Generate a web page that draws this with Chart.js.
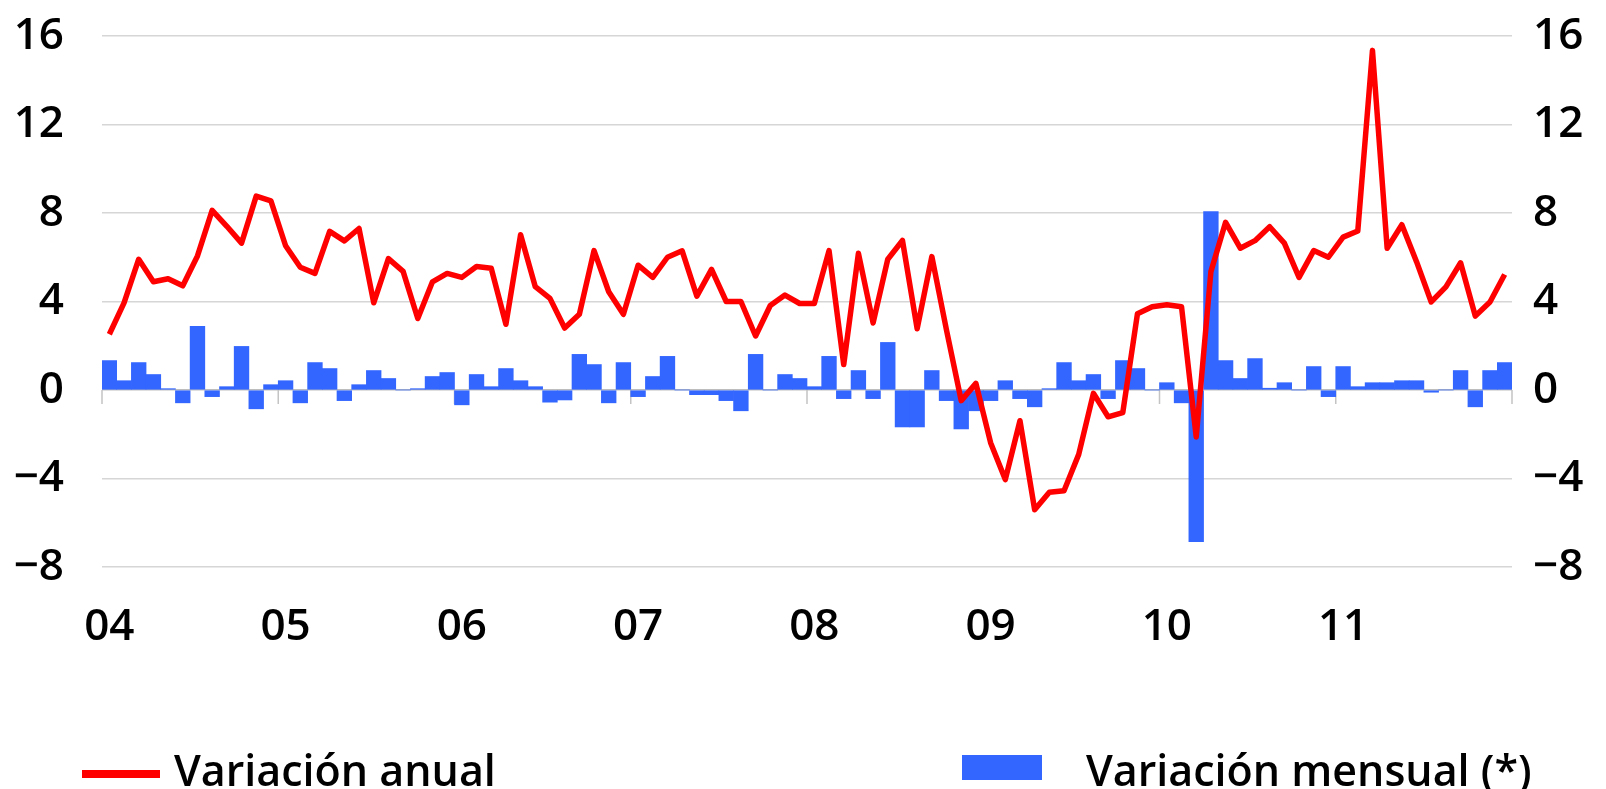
<!DOCTYPE html>
<html lang="es">
<head>
<meta charset="utf-8">
<title>Variación anual y mensual</title>
<script src="https://cdn.jsdelivr.net/npm/chart.js@4.4.1/dist/chart.umd.min.js"></script>
<style>
  html, body { margin: 0; padding: 0; background: #fff; }
  #wrap { position: relative; width: 1606px; height: 789px; overflow: hidden; }
  #chart { position: absolute; left: 0; top: 0; }
  .legend-text { position: absolute; font-family: 'Open Sans', sans-serif; font-size: 43px; font-weight: 600; line-height: 43px; color: #000; white-space: nowrap; }
  .swatch { position: absolute; }
</style>
</head>
<body>
<div id="wrap">
  <canvas id="chart" width="1606" height="789"></canvas>
  <div class="swatch" style="left:82px; top:770px; width:78px; height:8px; background:#ff0000;"></div>
  <div class="legend-text" style="left:174px; top:748px;">Variación anual</div>
  <div class="swatch" style="left:962px; top:755px; width:80px; height:25px; background:#3366ff;"></div>
  <div class="legend-text" style="left:1086px; top:748px;">Variación mensual (*)</div>
</div>
<script>
// years shown on the x axis, one label per January
const yearLabels = ['04', '05', '06', '07', '08', '09', '10', '11'];
const monthNames = ['ene', 'feb', 'mar', 'abr', 'may', 'jun', 'jul', 'ago', 'sep', 'oct', 'nov', 'dic'];

// one category per month, 2004-2011
const categories = [];
yearLabels.forEach(y => monthNames.forEach(m => categories.push(m + '-' + y)));

// annual change (%), red line
const variacionAnual = [
    2.52, 3.94, 5.91, 4.89, 5.03, 4.71, 6.06, 8.12, 7.40, 6.64, 8.76, 8.55,
    6.52, 5.55, 5.27, 7.17, 6.74, 7.30, 3.94, 5.94, 5.36, 3.23, 4.89, 5.27,
    5.09, 5.58, 5.50, 2.97, 7.02, 4.67, 4.14, 2.80, 3.42, 6.30, 4.44, 3.42,
    5.64, 5.09, 6.00, 6.29, 4.24, 5.45, 4.00, 4.00, 2.44, 3.82, 4.29, 3.91,
    3.91, 6.30, 1.15, 6.18, 3.03, 5.91, 6.76, 2.77, 6.03, 2.70, -0.48, 0.30,
    -2.38, -4.05, -1.39, -5.41, -4.62, -4.55, -2.91, -0.15, -1.21, -1.02, 3.45, 3.76,
    3.85, 3.76, -2.12, 5.35, 7.58, 6.41, 6.75, 7.38, 6.64, 5.09, 6.30, 6.00,
    6.91, 7.19, 15.35, 6.41, 7.47, 5.80, 3.98, 4.66, 5.75, 3.34, 3.98, 5.22
];

// monthly change (%), blue bars
const variacionMensual = [
    1.33, 0.42, 1.24, 0.70, 0.06, -0.58, 2.88, -0.30, 0.15, 1.97, -0.85, 0.24,
    0.42, -0.58, 1.24, 0.97, -0.48, 0.24, 0.88, 0.52, 0.00, 0.06, 0.61, 0.79,
    -0.67, 0.70, 0.15, 0.97, 0.42, 0.15, -0.55, -0.45, 1.61, 1.15, -0.58, 1.24,
    -0.30, 0.61, 1.52, 0.00, -0.21, -0.21, -0.48, -0.94, 1.61, 0.00, 0.70, 0.52,
    0.15, 1.52, -0.39, 0.88, -0.39, 2.15, -1.67, -1.67, 0.88, -0.48, -1.76, -0.94,
    -0.48, 0.42, -0.39, -0.76, 0.06, 1.24, 0.42, 0.70, -0.39, 1.33, 0.97, 0.00,
    0.33, -0.58, -6.85, 8.06, 1.33, 0.52, 1.42, 0.08, 0.33, 0.00, 1.06, -0.30,
    1.06, 0.15, 0.33, 0.33, 0.42, 0.42, -0.10, 0.00, 0.88, -0.76, 0.88, 1.24
];

const Y_MIN = -8;
const Y_MAX = 16;
const Y_STEP = 4;

const tickFont = { family: "'Open Sans', sans-serif", size: 44, weight: 600 };
const formatTick = v => (v < 0 ? '\u2212' + Math.abs(v) : String(v));

// the label gap on the y axes should not push the plot down
const fixYAxis = width => scale => {
    scale.width = width;
    scale.paddingTop = 0;
    scale.paddingBottom = 0;
};

// small tick marks hanging under the zero line at every year boundary
const yearTicks = {
    id: 'yearTicks',
    beforeDatasetsDraw(chart) {
        const { ctx, scales: { x, y } } = chart;
        const half = (x.getPixelForValue(1) - x.getPixelForValue(0)) / 2;
        const y0 = y.getPixelForValue(0);
        ctx.save();
        ctx.strokeStyle = '#c4c4c4';
        ctx.lineWidth = 1.5;
        ctx.beginPath();
        for (let i = 0; i <= categories.length; i += 12) {
            const px = x.getPixelForValue(i) - half;
            ctx.moveTo(px, y0);
            ctx.lineTo(px, y0 + 14);
        }
        ctx.stroke();
        ctx.restore();
    }
};

const ctx = document.getElementById('chart').getContext('2d');
new Chart(ctx, {
    data: {
        labels: categories,
        datasets: [
            {
                type: 'line',
                label: 'Variación anual',
                data: variacionAnual,
                borderColor: '#ff0000',
                backgroundColor: '#ff0000',
                borderWidth: 5.5,
                borderJoinStyle: 'round',
                pointRadius: 0,
                tension: 0,
                yAxisID: 'y',
                order: 0
            },
            {
                type: 'bar',
                label: 'Variación mensual (*)',
                data: variacionMensual,
                backgroundColor: '#3366ff',
                borderWidth: 0,
                barPercentage: 1,
                categoryPercentage: 1,
                yAxisID: 'y',
                order: 1
            }
        ]
    },
    options: {
        responsive: false,
        animation: false,
        layout: { padding: { top: 36, bottom: 132, left: 0, right: 0 } },
        plugins: {
            legend: { display: false },
            tooltip: { enabled: false }
        },
        scales: {
            x: {
                type: 'category',
                offset: true,
                grid: { display: false, drawTicks: false },
                border: { display: false },
                ticks: {
                    autoSkip: false,
                    maxRotation: 0,
                    padding: 34,
                    color: '#000',
                    font: tickFont,
                    callback: (value, index) => (index % 12 === 0 ? yearLabels[index / 12] : '')
                },
                afterFit: scale => { scale.height = 90; }
            },
            y: {
                position: 'left',
                min: Y_MIN,
                max: Y_MAX,
                grid: {
                    drawTicks: false,
                    lineWidth: 1.5,
                    color: c => (c.tick && c.tick.value === 0 ? '#bdbdbd' : '#d6d6d6')
                },
                border: { display: false },
                ticks: {
                    stepSize: Y_STEP,
                    padding: 38,
                    color: '#000',
                    font: tickFont,
                    callback: formatTick
                },
                afterFit: fixYAxis(102)
            },
            y1: {
                position: 'right',
                min: Y_MIN,
                max: Y_MAX,
                grid: { display: false, drawTicks: false },
                border: { display: false },
                ticks: {
                    stepSize: Y_STEP,
                    padding: 21,
                    color: '#000',
                    font: tickFont,
                    callback: formatTick
                },
                afterFit: fixYAxis(94)
            }
        }
    },
    plugins: [yearTicks]
});
</script>
</body>
</html>
